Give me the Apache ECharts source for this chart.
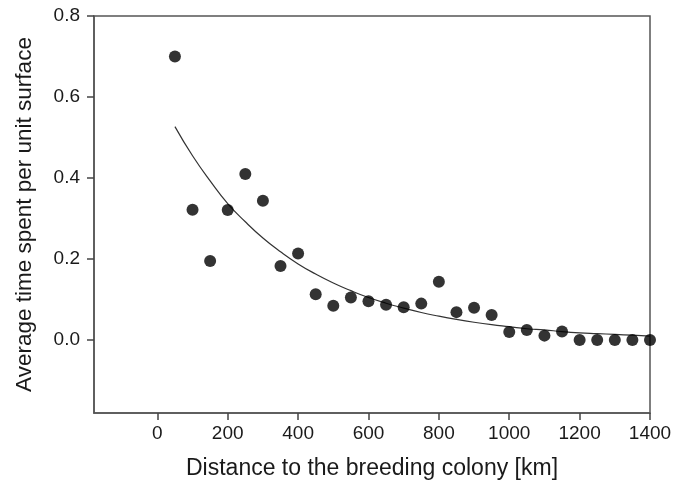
<!DOCTYPE html>
<html>
<head>
<meta charset="utf-8">
<script src="https://cdn.jsdelivr.net/npm/echarts@6/dist/echarts.min.js"></script>
<style>html,body{margin:0;padding:0;background:#fff;}#c{width:685px;height:485px;}</style>
</head>
<body>
<div id="c"></div>
<script>
// Observed data points
const distances = [50,100,150,200,250,300,350,400,450,500,550,600,650,700,750,800,850,900,950,1000,1050,1100,1150,1200,1250,1300,1350,1400];
const timeValues = [0.70,0.322,0.195,0.321,0.41,0.344,0.183,0.214,0.113,0.085,0.105,0.096,0.087,0.081,0.090,0.144,0.069,0.080,0.062,0.020,0.025,0.011,0.021,0.0,0.0,0.0,0.0,0.0];
// Fitted curve
const curveX = [50,100,150,200,250,300,350,400,450,500,550,600,650,700,750,800,850,900,950,1000,1050,1100,1150,1200,1250,1300,1350,1400];
const curveY = [0.527,0.455,0.393,0.337,0.292,0.252,0.218,0.188,0.163,0.141,0.122,0.105,0.091,0.079,0.068,0.059,0.051,0.044,0.038,0.033,0.028,0.025,0.021,0.018,0.016,0.014,0.012,0.010];
const xTicks = [0,200,400,600,800,1000,1200,1400];
const yTicks = [0,0.2,0.4,0.6,0.8];

const chart = echarts.init(document.getElementById('c'), null, {renderer:'canvas'});
const font = 'Liberation Sans, Arial, sans-serif';
chart.setOption({
  animation:false,
  backgroundColor:'#fff',
  grid:{left:94,right:35,top:16,bottom:72,show:true,borderColor:'#555',borderWidth:1.5,backgroundColor:'transparent'},
  xAxis:{
    type:'value',min:-180,max:1400,
    name:'Distance to the breeding colony [km]',nameLocation:'middle',nameGap:44,
    nameTextStyle:{fontFamily:font,fontSize:23,color:'#1a1a1a'},
    axisLine:{show:true,onZero:false,lineStyle:{color:'#555',width:1.5}},
    axisTick:{show:true,length:7,inside:false,customValues:xTicks,lineStyle:{color:'#444',width:1.5}},
    axisLabel:{customValues:xTicks,margin:11,fontFamily:font,fontSize:19,color:'#1a1a1a',formatter:v=>String(v)},
    splitLine:{show:false}
  },
  yAxis:{
    type:'value',min:-0.18,max:0.8,
    name:'Average time spent per unit surface',nameLocation:'middle',nameGap:58,
    nameTextStyle:{fontFamily:font,fontSize:22.5,color:'#1a1a1a'},
    axisLine:{show:true,onZero:false,lineStyle:{color:'#555',width:1.5}},
    axisTick:{show:true,length:7,inside:false,customValues:yTicks,lineStyle:{color:'#444',width:1.5}},
    axisLabel:{customValues:yTicks,margin:14,fontFamily:font,fontSize:19,color:'#1a1a1a',formatter:v=>v.toFixed(1)},
    splitLine:{show:false}
  },
  series:[
    {type:'line',data:curveX.map((x,i)=>[x,curveY[i]]),smooth:true,showSymbol:false,symbol:'none',
     lineStyle:{color:'#333',width:1.2},z:2},
    {type:'scatter',data:distances.map((x,i)=>[x,timeValues[i]]),symbolSize:12,
     itemStyle:{color:'#000'},z:3,clip:false}
  ]
});
</script>
</body>
</html>
